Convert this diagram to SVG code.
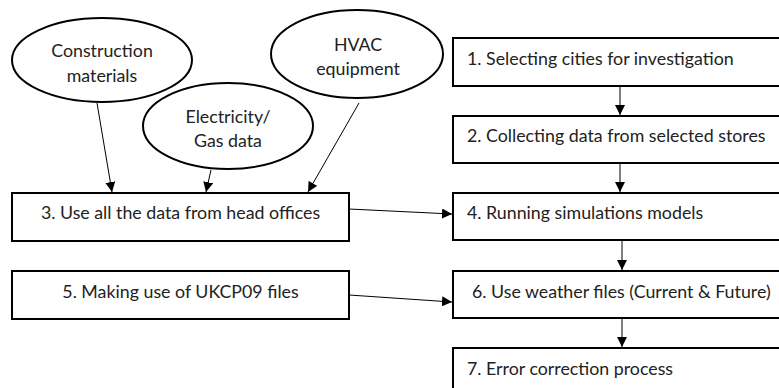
<svg xmlns="http://www.w3.org/2000/svg" width="779" height="388" viewBox="0 0 779 388">
<defs>
<style>
.n{fill:#fff;stroke:#000;stroke-width:2}
.t{font-family:Lato,"Open Sans","Liberation Sans",sans-serif;font-size:17.8px;fill:#222}
.c{text-anchor:middle}
.e{stroke:#000;stroke-width:1;fill:none;marker-end:url(#ah)}
</style>
<marker id="ah" viewBox="0 0 10 10" refX="10" refY="5" markerWidth="10" markerHeight="10" markerUnits="userSpaceOnUse" orient="auto">
<path d="M0,0 L10,5 L0,10 Z" fill="#000"/>
</marker>
</defs>
<rect width="779" height="388" fill="#fff"/>
<g id="construction"><ellipse class="n" cx="102" cy="60" rx="90" ry="42"/><text class="t c" x="102" y="57">Construction</text><text class="t c" x="102" y="82">materials</text></g>
<g id="electricity"><ellipse class="n" cx="228" cy="126" rx="85" ry="43"/><text class="t c" x="228" y="123">Electricity/</text><text class="t c" x="228" y="147">Gas data</text></g>
<g id="hvac"><ellipse class="n" cx="357" cy="54" rx="86" ry="44"/><text class="t c" x="358" y="51">HVAC</text><text class="t c" x="358" y="75">equipment</text></g>
<g id="box3"><rect class="n" x="12" y="193" width="337" height="48"/><text class="t c" x="180.5" y="219">3. Use all the data from head offices</text></g>
<g id="box5"><rect class="n" x="12" y="271" width="337" height="48"/><text class="t c" x="180.5" y="298">5. Making use of UKCP09 files</text></g>
<g id="box1"><rect class="n" x="453" y="38" width="340" height="48"/><text class="t" x="467" y="65">1. Selecting cities for investigation</text></g>
<g id="box2"><rect class="n" x="453" y="116" width="340" height="47"/><text class="t" x="467" y="142">2. Collecting data from selected stores</text></g>
<g id="box4"><rect class="n" x="453" y="193" width="340" height="47"/><text class="t" x="467" y="219">4. Running simulations models</text></g>
<g id="box6"><rect class="n" x="453" y="271" width="340" height="47"/><text class="t" x="472" y="298">6. Use weather files (Current &amp; Future)</text></g>
<g id="box7"><rect class="n" x="453" y="348" width="340" height="60"/><text class="t" x="467" y="375">7. Error correction process</text></g>
<g id="connectors">
<line class="e" x1="97" y1="103" x2="112" y2="192"/>
<line class="e" x1="211" y1="170" x2="206" y2="192"/>
<line class="e" x1="359" y1="103" x2="308" y2="192"/>
<line class="e" x1="349" y1="209" x2="452" y2="214"/>
<line class="e" x1="349" y1="295" x2="452" y2="302"/>
<line class="e" x1="620" y1="86" x2="620" y2="115"/>
<line class="e" x1="620" y1="163" x2="620" y2="192"/>
<line class="e" x1="622" y1="240" x2="622" y2="270"/>
<line class="e" x1="622" y1="318" x2="622" y2="347"/>
</g>
</svg>
